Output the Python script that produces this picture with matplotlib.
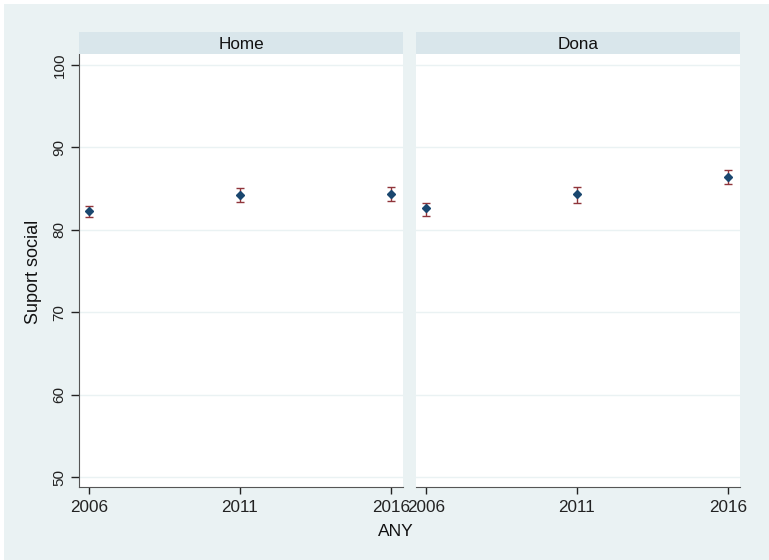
import matplotlib
matplotlib.use('Agg')
import matplotlib.pyplot as plt
from matplotlib.patches import Rectangle

plt.rcParams['font.family'] = ['Liberation Sans', 'DejaVu Sans']

# dades
anys = [2006, 2011, 2016]
panels = ['Home', 'Dona']
mitjana = {'Home': [82.3, 84.2, 84.4], 'Dona': [82.6, 84.4, 86.4]}
inferior = {'Home': [81.5, 83.4, 83.5], 'Dona': [81.7, 83.3, 85.6]}
superior = {'Home': [82.9, 85.1, 85.2], 'Dona': [83.2, 85.2, 87.3]}
yticks = [50, 60, 70, 80, 90, 100]

bg = '#eaf2f3'
strip_col = '#d9e6eb'
navy = '#1a476f'
maroon = '#90353b'

W, H = 769, 560
fig = plt.figure(figsize=(W / 100, H / 100), dpi=100)
fig.patch.set_facecolor('white')
fig.patches.append(Rectangle((4 / W, 0), 1, 1 - 4 / H, transform=fig.transFigure,
                             facecolor=bg, edgecolor='none', zorder=-10))

lefts = [79, 416]
pw = 324
top, bottom = 54, 487

for i, p in enumerate(panels):
    ax = fig.add_axes([lefts[i] / W, 1 - bottom / H, pw / W, (bottom - top) / H])
    ax.set_facecolor('white')
    m = mitjana[p]
    lo = [m[k] - inferior[p][k] for k in range(3)]
    hi = [superior[p][k] - m[k] for k in range(3)]
    ax.errorbar(anys, m, yerr=[lo, hi], fmt='none', ecolor=maroon,
                elinewidth=1, capsize=3, capthick=1, zorder=2)
    ax.plot(anys, m, 'D', color=navy, markersize=4.5, zorder=3)
    ax.set_xlim(2005.67, 2016.4)
    ax.set_ylim(48.79, 101.33)
    ax.set_yticks(yticks)
    ax.set_xticks(anys)
    for y in yticks:
        ax.axhline(y, color=bg, linewidth=1, zorder=0)
    for s in ['top', 'right']:
        ax.spines[s].set_visible(False)
    ax.spines['bottom'].set_color('#555555')
    ax.spines['left'].set_color('#555555')
    ax.tick_params(axis='x', length=5, width=1, labelsize=12.3, pad=4, colors='#222222')
    ax.tick_params(axis='y', length=6, width=1, labelsize=11, pad=3, colors='#222222')
    for lab in ax.get_yticklabels():
        lab.set_rotation(90)
        lab.set_va('center')
    if i == 1:
        ax.spines['left'].set_visible(False)
        ax.tick_params(axis='y', left=False, labelleft=False)

    sax = fig.add_axes([lefts[i] / W, 1 - top / H, pw / W, 22 / H])
    sax.set_facecolor(strip_col)
    sax.set_xticks([])
    sax.set_yticks([])
    for s in sax.spines.values():
        s.set_visible(False)
    sax.text(0.5, 0.45, p, ha='center', va='center', fontsize=12.3,
             color='#111111', transform=sax.transAxes)

fig.text(33 / W, 1 - 272 / H, 'Suport social', rotation=90, ha='center', va='center',
         fontsize=13, color='#111111')
fig.text(396 / W, 1 - 532 / H, 'ANY', ha='center', va='center', fontsize=12.5, color='#111111')

plt.savefig('out.png', dpi=100, facecolor=fig.get_facecolor())
